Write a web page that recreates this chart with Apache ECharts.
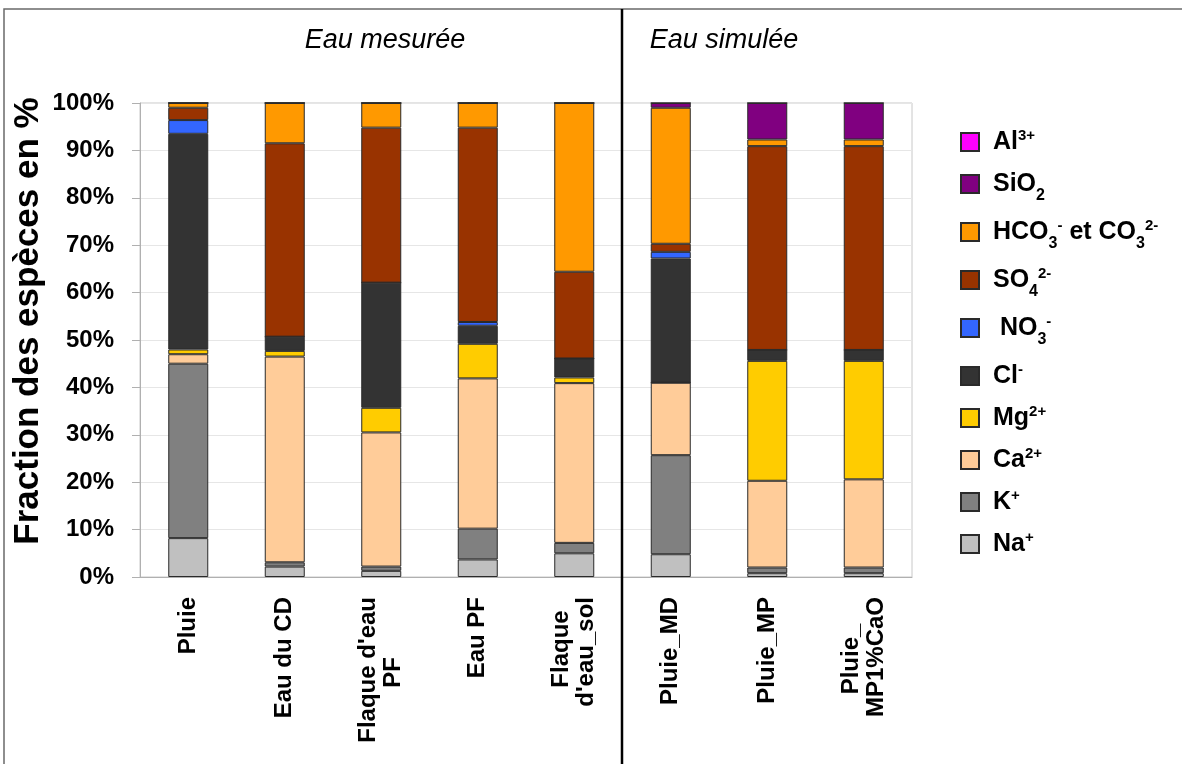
<!DOCTYPE html>
<html>
<head>
<meta charset="utf-8">
<script src="https://cdn.jsdelivr.net/npm/echarts@6/dist/echarts.min.js"></script>
<style>
  html, body { margin: 0; padding: 0; background: #fff; }
  #main { width: 1182px; height: 764px; }
</style>
</head>
<body>
<div id="main"></div>
<script>
// categories (bottom axis)
var categories = ['Pluie', 'Eau du CD', 'Flaque d\'eau\nPF', 'Eau PF', 'Flaque\nd\'eau_sol',
                  'Pluie_MD', 'Pluie_MP', 'Pluie_\nMP1%CaO'];
var yTicks = [0, 10, 20, 30, 40, 50, 60, 70, 80, 90, 100];

// fraction (%) of each species
var na   = [8.2, 2.2, 1.3, 3.7, 5.0, 4.8, 0.8, 0.8];
var k    = [36.8, 0.9, 0.9, 6.5, 2.2, 20.9, 1.2, 1.2];
var ca   = [2.0, 43.4, 28.3, 31.7, 33.7, 15.3, 18.3, 18.6];
var mg   = [1.0, 1.2, 5.2, 7.3, 1.2, 0, 25.3, 25.0];
var cl   = [45.5, 3.0, 26.4, 3.8, 4.0, 26.2, 2.3, 2.3];
var no3  = [2.9, 0, 0, 0.8, 0, 1.4, 0, 0];
var so4  = [2.6, 40.8, 32.7, 41.0, 18.3, 1.7, 43.0, 43.0];
var hco3 = [1.0, 8.5, 5.2, 5.2, 35.6, 28.7, 1.4, 1.4];
var sio2 = [0, 0, 0, 0, 0, 1.0, 7.7, 7.7];
var al   = [0, 0, 0, 0, 0, 0, 0, 0];

// species from bottom of the stack to top
var species = [
    {name: 'Na+',  data: na,   color: '#C0C0C0', label: 'Na{sup|+}'},
    {name: 'K+',   data: k,    color: '#808080', label: 'K{sup|+}'},
    {name: 'Ca2+', data: ca,   color: '#FFCC99', label: 'Ca{sup|2+}'},
    {name: 'Mg2+', data: mg,   color: '#FFCC00', label: 'Mg{sup|2+}'},
    {name: 'Cl-',  data: cl,   color: '#333333', label: 'Cl{sup|-}'},
    {name: 'NO3-', data: no3,  color: '#3366FF', label: ' NO{sub|3}{sup|-}'},
    {name: 'SO42-', data: so4, color: '#993300', label: 'SO{sub|4}{sup|2-}'},
    {name: 'HCO3', data: hco3, color: '#FF9900', label: 'HCO{sub|3}{sup|-} et CO{sub|3}{sup|2-}'},
    {name: 'SiO2', data: sio2, color: '#800080', label: 'SiO{sub|2}'},
    {name: 'Al3+', data: al,   color: '#FF00FF', label: 'Al{sup|3+}'}
];

var FONT = '"Liberation Sans", Arial, sans-serif';
var X_FONT_SIZE = 24;
var chart = echarts.init(document.getElementById('main'), null, {renderer: 'canvas'});

var labelMap = {};
var series = [];
for (var i = 0; i < species.length; i++) {
    labelMap[species[i].name] = species[i].label;
    series.push({
        name: species[i].name,
        type: 'bar',
        stack: 'total',
        barWidth: 40,
        data: species[i].data,
        itemStyle: {color: species[i].color, borderColor: '#2a2a2a', borderWidth: 1}
    });
}
var legendOrder = species.map(function (s) { return s.name; }).reverse();

// two-line axis labels: pad the shorter line with trailing spaces so lines look centred
var measureCtx = document.createElement('canvas').getContext('2d');
measureCtx.font = 'bold ' + X_FONT_SIZE + 'px ' + FONT;
var spaceW = measureCtx.measureText('\u00a0').width;
var xLabelText = {};
categories.forEach(function (c) {
    var lines = c.split('\n');
    var widths = lines.map(function (l) { return measureCtx.measureText(l).width; });
    var w = Math.max.apply(null, widths);
    xLabelText[c] = lines.map(function (l, j) {
        var n = Math.round((w - widths[j]) / 2 / spaceW);
        return l + new Array(n + 1).join('\u00a0');
    }).join('\n');
});

var option = {
    backgroundColor: '#ffffff',
    animation: false,
    textStyle: {fontFamily: FONT},
    grid: {
        left: 140, right: 270, top: 103, bottom: 187,
        show: true, borderColor: '#c8c8c8', borderWidth: 1
    },
    legend: {
        data: legendOrder,
        orient: 'vertical',
        left: 955,
        top: 123,
        itemWidth: 18,
        itemHeight: 18,
        itemGap: 14,
        icon: 'rect',
        selectedMode: false,
        formatter: function (name) { return '{g|}' + labelMap[name]; },
        textStyle: {
            fontFamily: FONT, fontWeight: 'bold', fontSize: 25, color: '#000', lineHeight: 28,
            rich: {
                g: {width: 9},
                sup: {fontSize: 15, fontWeight: 'bold', lineHeight: 15, verticalAlign: 'top', fontFamily: FONT},
                sub: {fontSize: 16, fontWeight: 'bold', lineHeight: 16, verticalAlign: 'bottom', padding: [0, 0, -6, 0], fontFamily: FONT}
            }
        }
    },
    xAxis: {
        type: 'category',
        data: categories,
        axisLine: {lineStyle: {color: '#b0b0b0'}},
        axisTick: {length: 7, lineStyle: {color: '#b0b0b0'}},
        axisLabel: {
            rotate: 90, margin: 20, interval: 0,
            fontFamily: FONT, fontWeight: 'bold', fontSize: X_FONT_SIZE, color: '#000', lineHeight: 25,
            formatter: function (v) { return xLabelText[v]; }
        }
    },
    yAxis: {
        type: 'value',
        min: 0, max: 100, interval: 10,
        axisLine: {show: true, lineStyle: {color: '#b0b0b0'}},
        axisTick: {show: true, length: 8, lineStyle: {color: '#b0b0b0'}},
        axisLabel: {
            margin: 26,
            fontFamily: FONT, fontWeight: 'bold', fontSize: 24, color: '#000',
            formatter: function (v) { return yTicks.indexOf(v) >= 0 ? v + '%' : ''; }
        },
        splitLine: {lineStyle: {color: '#e6e6e6'}}
    },
    graphic: [
        {type: 'rect', silent: true, z: 0,
         shape: {x: 4, y: 9, width: 1300, height: 900},
         style: {fill: null, stroke: '#6a6a6a', lineWidth: 1.5}},
        {type: 'line', silent: true, z: 100,
         shape: {x1: 622, y1: 9, x2: 622, y2: 764},
         style: {stroke: '#000', lineWidth: 2.5}},
        {type: 'text', silent: true, x: 385, y: 40,
         style: {text: 'Eau mesurée', fontFamily: FONT, fontStyle: 'italic', fontSize: 27,
                 fill: '#000', align: 'center', verticalAlign: 'middle'}},
        {type: 'text', silent: true, x: 724, y: 40,
         style: {text: 'Eau simulée', fontFamily: FONT, fontStyle: 'italic', fontSize: 27,
                 fill: '#000', align: 'center', verticalAlign: 'middle'}},
        // y axis title
        {type: 'text', silent: true, x: 28, y: 321, rotation: Math.PI / 2,
         style: {text: 'Fraction des espèces en %', fontFamily: FONT, fontWeight: 'bold', fontSize: 35,
                 fill: '#000', align: 'center', verticalAlign: 'middle'}}
    ],
    series: series
};
chart.setOption(option);
</script>
</body>
</html>
